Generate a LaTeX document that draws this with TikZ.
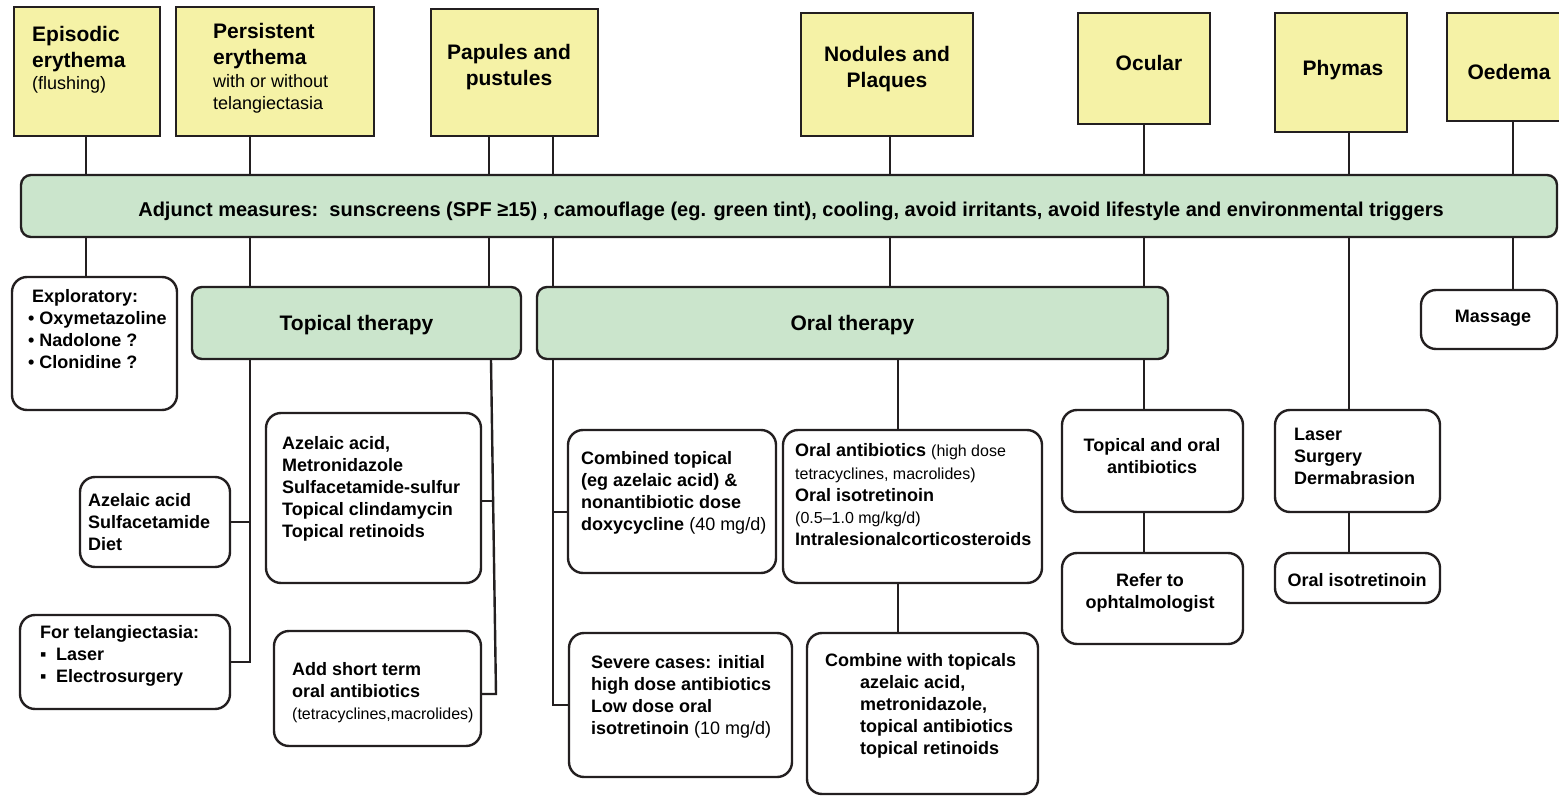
\documentclass[tikz,border=0pt]{standalone}
\usepackage{fontspec}
\setmainfont{Liberation Sans}
\usetikzlibrary{fit,backgrounds}
\definecolor{linec}{HTML}{231F20}
\definecolor{yfill}{HTML}{F5F2A6}
\definecolor{gfill}{HTML}{CBE5CC}
\newcommand{\lite}[1]{{\mdseries #1}}
\newcommand{\slite}[1]{{\mdseries\fontsize{16}{22}\selectfont #1}}
\tikzset{
  box/.style={draw=linec, line width=2.4pt, inner sep=0pt},
  ybox/.style={box, fill=yfill},
  gbox/.style={box, fill=gfill, rounded corners=10pt},
  wbox/.style={box, fill=white, rounded corners=15pt},
  txt/.style={inner sep=0pt, align=left, anchor=north west, font=\bfseries\fontsize{18}{22}\selectfont},
  ctxt/.style={txt, align=center, anchor=north},
  htxt/.style={txt, font=\bfseries\fontsize{21}{26}\selectfont},
  hctxt/.style={htxt, align=center, anchor=north},
  link/.style={draw=linec, line width=2.4pt}
}
\begin{document}
\begin{tikzpicture}[x=1pt,y=-1pt]
\useasboundingbox (0,0) rectangle (1559,797);

\node[ybox, fit={(14,7) (160,136)}] (epi) {};
\node[ybox, fit={(176,7) (374,136)}] (pers) {};
\node[ybox, fit={(431,9) (598,136)}] (pap) {};
\node[ybox, fit={(801,13) (973,136)}] (nod) {};
\node[ybox, fit={(1078,13) (1210,124)}] (ocu) {};
\node[ybox, fit={(1275,13) (1407,132)}] (phy) {};
\node[ybox, fit={(1447,13) (1580,121)}] (oed) {};

\node[htxt] (epit) at (32,26) {Episodic\\erythema\\[-4pt]\lite{\fontsize{18}{22}\selectfont(flushing)}};
\node[htxt] (perst) at (213,23) {Persistent\\erythema\\[-3pt]\lite{\fontsize{18}{22}\selectfont with or without}\\[-4pt]\lite{\fontsize{18}{22}\selectfont telangiectasia}};
\node[hctxt] (papt) at (509,44) {Papules and\\pustules};
\node[hctxt] (nodt) at (887,46) {Nodules and\\Plaques};
\node[htxt, anchor=center] (ocut) at (1149,63) {Ocular};
\node[htxt, anchor=center] (phyt) at (1343,70) {Phymas};
\node[htxt, anchor=center] (oedt) at (1509,72) {Oedema};

\node[gbox, fit={(21,175) (1557,237)}] (adj) {};
\node[txt, anchor=center, font=\bfseries\fontsize{20}{24}\selectfont] (adjt) at (791,211) {Adjunct measures:\ \ sunscreens (SPF ≥15) , camouflage (eg. green tint), cooling, avoid irritants, avoid lifestyle and environmental\ triggers};

\node[wbox, fit={(12,277) (177,410)}] (expl) {};
\node[gbox, fit={(192,287) (521,359)}] (top) {};
\node[gbox, fit={(537,287) (1168,359)}] (oral) {};
\node[wbox, fit={(1421,290) (1557,349)}] (mas) {};
\node[wbox, fit={(80,477) (230,567)}] (azd) {};
\node[wbox, fit={(266,413) (481,583)}] (azm) {};
\node[wbox, fit={(20,615) (230,709)}] (tel) {};
\node[wbox, fit={(274,631) (481,746)}] (aso) {};
\node[wbox, fit={(568,430) (776,573)}] (comb) {};
\node[wbox, fit={(783,430) (1042,583)}] (oab) {};
\node[wbox, fit={(569,633) (792,777)}] (sev) {};
\node[wbox, fit={(807,633) (1038,794)}] (cwt) {};
\node[wbox, fit={(1062,410) (1243,512)}] (tao) {};
\node[wbox, fit={(1062,553) (1243,644)}] (ref) {};
\node[wbox, fit={(1275,410) (1440,512)}] (las) {};
\node[wbox, fit={(1275,553) (1440,603)}] (ois) {};

\node[txt] (explt) at (28,289) {\hspace{4pt}Exploratory:\\• Oxymetazoline\\• Nadolone ?\\• Clonidine ?};
\node[htxt, anchor=center, yshift=-2pt] (topt) at (top) {Topical therapy};
\node[htxt, anchor=center, yshift=-2pt] (oralt) at (oral) {Oral therapy};
\node[htxt, anchor=center, font=\bfseries\fontsize{18}{22}\selectfont] (mast) at (1493,318) {Massage};
\node[txt] (azdt) at (88,493) {Azelaic acid\\Sulfacetamide\\Diet};
\node[txt] (azmt) at (282,436) {Azelaic acid,\\Metronidazole\\Sulfacetamide-sulfur\\Topical clindamycin\\Topical retinoids};
\node[txt] (telt) at (40,625) {For telangiectasia:\\\makebox[16pt][l]{▪}Laser\\\makebox[16pt][l]{▪}Electrosurgery};
\node[txt] (asot) at (292,662) {Add short term\\oral antibiotics\\\slite{(tetracyclines,macrolides)}};
\node[txt] (combt) at (581,451) {Combined topical\\(eg azelaic acid) \&\\nonantibiotic dose\\doxycycline \lite{(40 mg/d)}};
\node[txt] (oabt) at (795,443) {Oral antibiotics \slite{(high dose}\\[1pt]\slite{tetracyclines, macrolides)}\\Oral isotretinoin\\\slite{(0.5–1.0 mg/kg/d)}\\Intralesionalcorticosteroids};
\node[txt] (sevt) at (591,655) {Severe cases: initial\\high dose antibiotics\\Low dose oral\\isotretinoin \lite{(10 mg/d)}};
\node[txt] (cwtt) at (825,653) {Combine with topicals\\\hspace*{35pt}azelaic acid,\\\hspace*{35pt}metronidazole,\\\hspace*{35pt}topical antibiotics\\\hspace*{35pt}topical retinoids};
\node[ctxt] (taot) at (1152,438) {Topical and oral\\antibiotics};
\node[ctxt] (reft) at (1150,573) {Refer to\\ophtalmologist};
\node[txt] (last) at (1294,428) {Laser\\Surgery\\Dermabrasion};
\node[txt, anchor=center] (oist) at (1357,580) {Oral isotretinoin};

\begin{scope}[on background layer]
\draw[link] (epi.south -| 86,0) -- (expl.north -| 86,0);
\draw[link] (pers.south -| 250,0) -- (tel.east -| 250,0) -- (tel.east);
\draw[link] (azd.east) -- (azd.east -| 250,0);
\draw[link] (pap.south -| 489,0) -- (top.north -| 489,0);
\draw[link] (top.south -| 491,0) -- (496,694) -- (aso.east |- 0,694);
\draw[link] (azm.east |- 0,501) -- (494,501);
\draw[link] (pap.south -| 553,0) -- (oral.north -| 553,0);
\draw[link] (oral.south -| 553,0) -- (sev.west -| 553,0) -- (sev.west);
\draw[link] (comb.west |- 0,512) -- (553,512);
\draw[link] (nod.south -| 890,0) -- (oral.north -| 890,0);
\draw[link] (oral.south -| 898,0) -- (oab.north -| 898,0);
\draw[link] (oab.south -| 898,0) -- (cwt.north -| 898,0);
\draw[link] (ocu.south -| 1144,0) -- (oral.north -| 1144,0);
\draw[link] (oral.south -| 1144,0) -- (tao.north -| 1144,0);
\draw[link] (tao.south -| 1144,0) -- (ref.north -| 1144,0);
\draw[link] (phy.south -| 1349,0) -- (las.north -| 1349,0);
\draw[link] (las.south -| 1349,0) -- (ois.north -| 1349,0);
\draw[link] (oed.south -| 1513,0) -- (mas.north -| 1513,0);
\end{scope}
\end{tikzpicture}
\end{document}
